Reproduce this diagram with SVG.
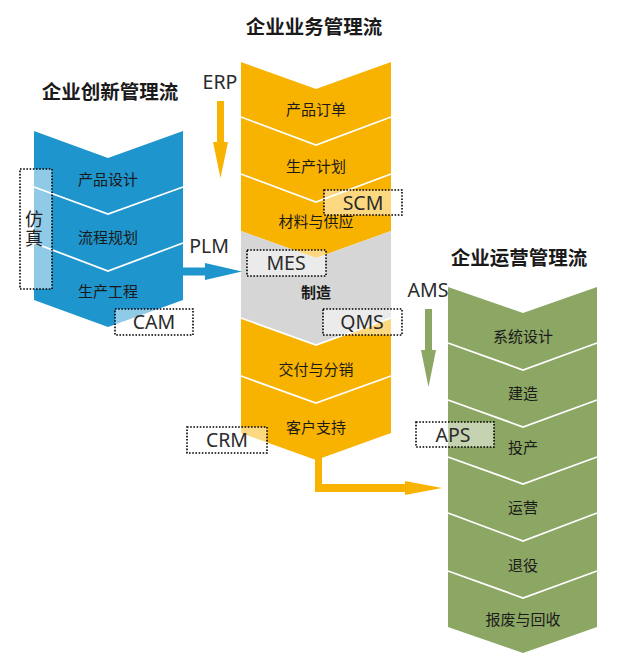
<svg xmlns="http://www.w3.org/2000/svg" width="640" height="669" viewBox="0 0 640 669">
<style>
text{font-family:"Noto Sans CJK SC","Noto Sans",sans-serif;dominant-baseline:central;text-anchor:middle;fill:#1a1a1a}
.title{font-size:19.5px;font-weight:bold}
.seg{font-size:15px}
.lbl{font-family:"Noto Sans","Open Sans","Noto Sans CJK SC",sans-serif;font-size:19.5px;fill:#2b2b2b}
.vert{writing-mode:vertical-rl;font-size:18px;letter-spacing:1.5px;fill:#222}
.div{fill:none;stroke:#fff;stroke-width:1.8}
.box{fill:#fff;fill-opacity:0.5;stroke:#000;stroke-width:1.6;stroke-dasharray:1.6 1.6}
.blue{fill:#1F95CD}
.orange{fill:#F8B300}
.gray{fill:#D6D6D6}
.green{fill:#8CA663}
</style>

<g id="titles">
<text class="title" x="110" y="90.5">企业创新管理流</text>
<text class="title" x="314" y="25.5">企业业务管理流</text>
<text class="title" x="519" y="256.5">企业运营管理流</text>
</g>

<!-- Innovation column -->
<g id="innovation">
<polygon class="blue" points="34,131 108,158 183,131 183,300 108,327 34,300"/>
<polyline class="div" points="34,187 108,214 183,187"/>
<polyline class="div" points="34,243 108,271 183,243"/>
<text class="seg" x="108" y="178.5">产品设计</text>
<text class="seg" x="108" y="236.5">流程规划</text>
<text class="seg" x="108" y="290.5">生产工程</text>
</g>

<!-- Business column -->
<g id="business">
<polygon class="orange" points="241,62 316,89 391,62 391,231 316,258 241,231"/>
<polygon class="gray" points="241,231 316,258 391,231 391,318 316,345 241,318"/>
<polygon class="orange" points="241,318 316,345 391,318 391,433 316,460 241,433"/>
<polyline class="div" points="241,117 316,145 391,117"/>
<polyline class="div" points="241,174 316,202 391,174"/>
<polyline class="div" points="241,318 316,345 391,318"/>
<polyline class="div" points="241,376 316,403 391,376"/>
<text class="seg" x="316" y="108.5">产品订单</text>
<text class="seg" x="316" y="165.5">生产计划</text>
<text class="seg" x="316" y="220.5">材料与供应</text>
<text class="seg" x="316" y="291.5" font-weight="bold">制造</text>
<text class="seg" x="316" y="368.5">交付与分销</text>
<text class="seg" x="316" y="426.5">客户支持</text>
</g>

<!-- Operations column -->
<g id="operations">
<polygon class="green" points="448,287 523,313 597,287 597,627 523,653 448,627"/>
<polyline class="div" points="448,343 523,370 597,343"/>
<polyline class="div" points="448,400 523,427 597,400"/>
<polyline class="div" points="448,457 523,484 597,457"/>
<polyline class="div" points="448,513 523,541 597,513"/>
<polyline class="div" points="448,571 523,598 597,571"/>
<text class="seg" x="523" y="335.5">系统设计</text>
<text class="seg" x="523" y="392.5">建造</text>
<text class="seg" x="523" y="446.5">投产</text>
<text class="seg" x="523" y="506.5">运营</text>
<text class="seg" x="523" y="564.5">退役</text>
<text class="seg" x="523" y="618.5">报废与回收</text>
</g>

<!-- Connectors -->
<g id="connectors">
<path class="orange" d="M217,101 H224 V142 H228 L220.5,178 L213,142 H217 Z"/>
<path class="blue" d="M183,267.5 H205 V263 L242,271.5 L205,280 V275.5 H183 Z"/>
<path class="green" d="M425,309 H432 V350 H436 L428.5,387 L421,350 H425 Z"/>
<path class="orange" d="M315,455 H322 V484 H405 V481 L442,488 L405,495 V492 H315 Z"/>
</g>

<!-- System labels -->
<g id="label-ERP"><text class="lbl" x="220" y="81">ERP</text></g>
<g id="label-PLM"><text class="lbl" x="209" y="245">PLM</text></g>
<g id="label-AMS"><text class="lbl" x="428" y="289">AMS</text></g>

<g id="box-sim">
<rect class="box" x="20" y="169" width="32" height="120"/>
<text class="vert" x="34" y="229.5">仿真</text>
</g>
<g id="box-CAM">
<rect class="box" x="115" y="309" width="78" height="26"/>
<text class="lbl" x="154" y="321">CAM</text>
</g>
<g id="box-SCM">
<rect class="box" x="324" y="190" width="78" height="25"/>
<text class="lbl" x="363" y="202">SCM</text>
</g>
<g id="box-MES">
<rect class="box" x="247" y="250" width="79" height="26"/>
<text class="lbl" x="286" y="262">MES</text>
</g>
<g id="box-QMS">
<rect class="box" x="323" y="309" width="79" height="26"/>
<text class="lbl" x="362" y="321">QMS</text>
</g>
<g id="box-CRM">
<rect class="box" x="187" y="427" width="80" height="26"/>
<text class="lbl" x="227" y="439">CRM</text>
</g>
<g id="box-APS">
<rect class="box" x="416" y="422" width="78" height="25"/>
<text class="lbl" x="453" y="434">APS</text>
</g>
</svg>
